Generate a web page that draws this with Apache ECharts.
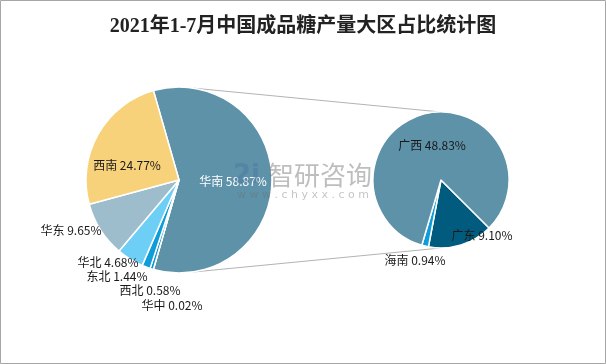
<!DOCTYPE html>
<html><head><meta charset="utf-8">
<script src="https://cdn.jsdelivr.net/npm/echarts@6/dist/echarts.min.js"></script>
<style>html,body{margin:0;padding:0;background:#fff}#c{width:606px;height:364px}</style>
</head><body><div id="c"></div>
<script>
// ---- data ----
var titleText = '2021年1-7月中国成品糖产量大区占比统计图';
var mainNames = ['华南', '华中', '西北', '东北', '华北', '华东', '西南'];
var mainValues = [58.87, 0.02, 0.58, 1.44, 4.68, 9.65, 24.77];
var subNames = ['广东', '海南', '广西'];
var subValues = [9.10, 0.94, 48.83];

// ---- styles / layout ----
var mainColors = ['#5d92a8', '#1d6a8c', '#0c97d2', '#0e9dd8', '#6dcff6', '#9dbdcc', '#f7d27b'];
var subColors = ['#005b7f', '#0e9dd8', '#5d92a8'];
var L = {cx: 179, cy: 180, r: 93};
var R = {cx: 441, cy: 180, r: 68};
var mainLabelAt = {
  '华南': [233, 181], '西南': [127, 165], '华东': [71, 230], '华北': [108, 262],
  '东北': [117, 276], '西北': [150, 290], '华中': [172, 305]
};
var subLabelAt = {'广西': [432, 145], '广东': [482, 235], '海南': [415, 260]};

var totalMain = mainValues.reduce(function(a, b){return a + b;}, 0);
// first slice centred on the right (3 o'clock), pointing at the breakout pie
var startMain = (mainValues[0] / totalMain) * 360 / 2;

function pt(c, degCw, rr) {
  var a = degCw * Math.PI / 180;
  return [c.cx + (rr || c.r) * Math.sin(a), c.cy - (rr || c.r) * Math.cos(a)];
}
var t1 = pt(L, 9), t2 = pt(R, 0), b1 = pt(L, 173), b2 = pt(R, 180);

function fmt(p) { return p.name + ' ' + p.value.toFixed(2) + '%'; }
var labelFont = '"Noto Sans CJK SC", "Noto Sans", sans-serif';

var chart = echarts.init(document.getElementById('c'), null, {renderer: 'canvas'});
chart.setOption({
  animation: false,
  backgroundColor: '#fff',
  title: {
    text: titleText, left: 'center', top: 12,
    textStyle: {fontSize: 20, fontWeight: 'bold', color: '#222',
      fontFamily: '"Liberation Serif", "Noto Sans CJK SC", serif'}
  },
  graphic: [
    {type: 'rect', shape: {x: 0.5, y: 0.5, width: 605, height: 363}, silent: true, z: 100,
      style: {fill: 'none', stroke: '#a6a6a6', lineWidth: 1}},
    {type: 'line', shape: {x1: t1[0], y1: t1[1], x2: t2[0], y2: t2[1]}, z: 0,
      style: {stroke: '#b3b3b3', lineWidth: 1}},
    {type: 'line', shape: {x1: b1[0], y1: b1[1], x2: b2[0], y2: b2[1]}, z: 0,
      style: {stroke: '#b3b3b3', lineWidth: 1}},
    {type: 'text', x: 233, y: 176, z: 50, silent: true,
      style: {text: '2i', font: 'bold 26px "DejaVu Sans", sans-serif', fill: 'rgba(70,110,160,0.35)', textVerticalAlign: 'middle'}},
    {type: 'text', x: 320, y: 175, z: 50, silent: true,
      style: {text: '智研咨询', font: '26px "Noto Sans CJK SC", sans-serif', fill: 'rgba(110,110,110,0.45)', textAlign: 'center', textVerticalAlign: 'middle'}},
    {type: 'text', x: 303, y: 195, z: 50, silent: true,
      style: {text: 'w w w . c h y x x . c o m', font: '11px "DejaVu Sans", sans-serif', fill: 'rgba(110,110,110,0.4)', textAlign: 'center', textVerticalAlign: 'middle'}}
  ],
  series: [
    {
      type: 'pie', center: [L.cx, L.cy], radius: L.r, startAngle: startMain, clockwise: true,
      avoidLabelOverlap: false, minAngle: 0,
      itemStyle: {borderColor: '#fff', borderWidth: 1.5},
      label: {show: true, position: 'outside', formatter: fmt, fontSize: 12, color: '#1a1a1a', fontFamily: labelFont},
      labelLine: {show: false},
      labelLayout: function (p) {
        var q = mainLabelAt[mainNames[p.dataIndex]];
        return {x: q[0], y: q[1], align: 'center', verticalAlign: 'middle'};
      },
      data: mainNames.map(function (n, i) {
        var d = {name: n, value: mainValues[i], itemStyle: {color: mainColors[i]}};
        if (n === '华南') d.label = {color: '#fff'};
        return d;
      })
    },
    {
      type: 'pie', center: [R.cx, R.cy], radius: R.r, startAngle: -45, clockwise: true,
      avoidLabelOverlap: false,
      itemStyle: {borderColor: '#fff', borderWidth: 1.5},
      label: {show: true, position: 'outside', formatter: fmt, fontSize: 12, color: '#1a1a1a', fontFamily: labelFont},
      labelLine: {show: false},
      labelLayout: function (p) {
        var q = subLabelAt[subNames[p.dataIndex]];
        return {x: q[0], y: q[1], align: 'center', verticalAlign: 'middle'};
      },
      data: subNames.map(function (n, i) {
        return {name: n, value: subValues[i], itemStyle: {color: subColors[i]}};
      })
    }
  ]
});
</script></body></html>
